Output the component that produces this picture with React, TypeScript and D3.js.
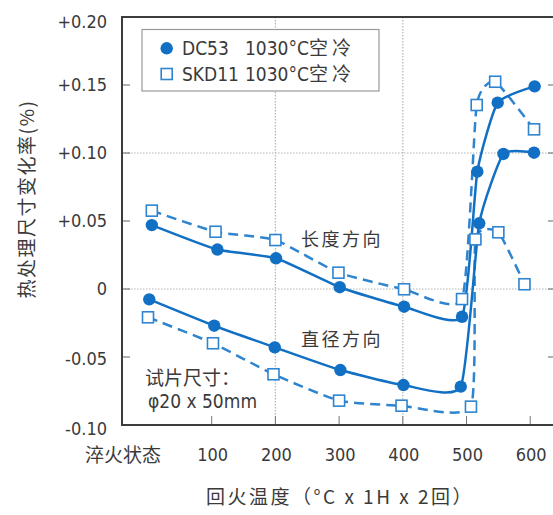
import React from "react";
import * as d3 from "d3";

// ---- data ----
const yTicks = [-0.1, -0.05, 0, 0.05, 0.1, 0.15, 0.2];
const yTickLabels = ["-0.10", "-0.05", "0", "+0.05", "+0.10", "+0.15", "+0.20"];
const xTicks = [100, 200, 300, 400, 500, 600];
const xTickLabels = ["100", "200", "300", "400", "500", "600"];
const quenchLabel = "淬火状态";
const yGrid = [0, 0.1];
const xGrid = [200, 400];

// DC53 (solid, filled circles)
const dc53LenT = [6, 109, 201, 301, 402, 493, 517, 549, 607];
const dc53LenV = [0.047, 0.029, 0.0226, 0.0013, -0.013, -0.0204, 0.0863, 0.137, 0.149];
const dc53DiaT = [2, 104, 199, 302, 401, 491, 520, 558, 606];
const dc53DiaV = [-0.0076, -0.027, -0.0429, -0.0596, -0.0706, -0.0718, 0.0483, 0.0993, 0.1002];
// SKD11 (dashed, open squares)
const skdLenT = [6, 106, 200, 299, 402, 493, 516, 545, 606];
const skdLenV = [0.0576, 0.0421, 0.036, 0.012, -0.0002, -0.0074, 0.1353, 0.1524, 0.1174];
const skdDiaT = [0, 102, 197, 300, 398, 507, 514, 550, 591];
const skdDiaV = [-0.0208, -0.0399, -0.0627, -0.0821, -0.0858, -0.0865, 0.0365, 0.0417, 0.0035];

const legendNames = ["DC53", "SKD11"];
const legendCond = "1030°C空冷";

const W = 553;
const H = 515;
const LEFT = 122;
const RIGHT = 557;
const TOP = 17;
const BOTTOM = 425;

const LAT = "'DejaVu Sans Condensed', 'DejaVu Sans', sans-serif";
const CJK = "'Noto Sans CJK SC', sans-serif";
const TXT = "#3a3a3a";
const BLUE = "#1170c4";
const BLUE2 = "#2f84cf";

export default function App() {
  const x = d3.scaleLinear().domain([0, 600]).range([148, 530.2]);
  const y = d3.scaleLinear().domain([-0.1, 0.2]).range([BOTTOM, TOP]);

  const line = d3
    .line<[number, number]>()
    .x((d) => x(d[0]))
    .y((d) => y(d[1]))
    .curve(d3.curveCardinal.tension(0.5));

  const zip = (t: number[], v: number[]) => t.map((tt, i) => [tt, v[i]] as [number, number]);
  const dcL = zip(dc53LenT, dc53LenV);
  const dcD = zip(dc53DiaT, dc53DiaV);
  const skL = zip(skdLenT, skdLenV);
  const skD = zip(skdDiaT, skdDiaV);

  const sq = 11;

  return (
    <svg width={W} height={H} style={{ display: "block", position: "absolute", left: 0, top: 0 }}>
      <rect x={0} y={0} width={W} height={H} fill="#fff" />
      {/* grid */}
      {yGrid.map((g) => (
        <line key={"yg" + g} x1={LEFT} x2={RIGHT} y1={y(g)} y2={y(g)} stroke="#b5b5b5" strokeWidth={1.2} strokeDasharray="1.5,1.5" />
      ))}
      {xGrid.map((g) => (
        <line key={"xg" + g} x1={x(g)} x2={x(g)} y1={TOP} y2={BOTTOM} stroke="#b5b5b5" strokeWidth={1.2} strokeDasharray="1.5,1.5" />
      ))}
      {/* ticks */}
      {yTicks.map((t) => (
        <g key={"yt" + t}>
          <line x1={LEFT} x2={LEFT + 8} y1={y(t)} y2={y(t)} stroke="#666" strokeWidth={1} />
          <line x1={RIGHT - 9} x2={RIGHT} y1={y(t)} y2={y(t)} stroke="#666" strokeWidth={1} />
        </g>
      ))}
      {xTicks.map((t) => (
        <line key={"xt" + t} x1={x(t)} x2={x(t)} y1={BOTTOM - 9} y2={BOTTOM} stroke="#777" strokeWidth={1} />
      ))}
      {/* frame */}
      <rect x={LEFT} y={TOP} width={RIGHT - LEFT} height={BOTTOM - TOP} fill="none" stroke="#3c3c3c" strokeWidth={2} />

      {/* y tick labels */}
      {yTicks.map((t, i) => (
        <text
          key={"yl" + t}
          x={107}
          y={y(t) + (t === 0.2 ? 5 : t === -0.1 ? 4 : t === -0.05 ? 2 : 0)}
          dy="0.36em"
          textAnchor="end"
          fontFamily={LAT}
          fontSize={18}
          fill={TXT}
        >
          {yTickLabels[i]}
        </text>
      ))}
      {/* x tick labels */}
      <text x={123} y={455} dy="0.36em" textAnchor="middle" fontFamily={CJK} fontSize={19} fill={TXT}>
        {quenchLabel}
      </text>
      {xTicks.map((t, i) => (
        <text key={"xl" + t} x={x(t) + 1} y={455} dy="0.36em" textAnchor="middle" fontFamily={LAT} fontSize={18} fill={TXT}>
          {xTickLabels[i]}
        </text>
      ))}

      {/* axis titles */}
      <text
        transform="translate(27,199) rotate(-90)"
        textAnchor="middle"
        dy="0.36em"
        fontFamily={CJK}
        fontSize={19}
        letterSpacing={1.5}
        fill={TXT}
      >
        热处理尺寸变化率(%)
      </text>
      <text x={340} y={497} dy="0.36em" textAnchor="middle" fontFamily={CJK} fontSize={19} letterSpacing={2.5} fill={TXT}>
        回火温度（°C x 1H x 2回）
      </text>

      {/* annotations */}
      <text x={342} y={240} dy="0.36em" textAnchor="middle" fontFamily={CJK} fontSize={18} letterSpacing={2.5} fill={TXT}>
        长度方向
      </text>
      <text x={342} y={340} dy="0.36em" textAnchor="middle" fontFamily={CJK} fontSize={18} letterSpacing={2.5} fill={TXT}>
        直径方向
      </text>
      <text x={145} y={385} fontFamily={CJK} fontSize={19} fill={TXT}>
        试片尺寸：
      </text>
      <text x={148} y={408} fontFamily={LAT} fontSize={19} fill={TXT}>
        φ20 x 50mm
      </text>

      {/* lines */}
      <path d={line(skL) || ""} fill="none" stroke={BLUE2} strokeWidth={2.5} strokeDasharray="10,6" />
      <path d={line(skD) || ""} fill="none" stroke={BLUE2} strokeWidth={2.5} strokeDasharray="10,6" />
      <path d={line(dcL) || ""} fill="none" stroke={BLUE} strokeWidth={2.5} />
      <path d={line(dcD) || ""} fill="none" stroke={BLUE} strokeWidth={2.5} />

      {/* markers */}
      {[...skL, ...skD].map((d, i) => (
        <rect
          key={"s" + i}
          x={x(d[0]) - sq / 2}
          y={y(d[1]) - sq / 2}
          width={sq}
          height={sq}
          fill="#fff"
          stroke={BLUE2}
          strokeWidth={1.6}
        />
      ))}
      {[...dcL, ...dcD].map((d, i) => (
        <circle key={"c" + i} cx={x(d[0])} cy={y(d[1])} r={6.2} fill={BLUE} />
      ))}

      {/* legend */}
      <rect x={142} y={29.5} width={237} height={61.5} fill="#fff" stroke="#9a9a9a" strokeWidth={1.2} />
      <circle cx={166.7} cy={48.3} r={6.2} fill={BLUE} />
      <rect x={166.7 - sq / 2} y={74 - sq / 2} width={sq} height={sq} fill="#fff" stroke={BLUE2} strokeWidth={1.6} />
      {legendNames.map((n, i) => (
        <g key={n}>
          <text x={182} y={48.5 + i * 26} dy="0.36em" fontFamily={LAT} fontSize={19} fill={TXT}>
            {n}
          </text>
          <text x={245} y={48.5 + i * 26} dy="0.36em" fontFamily={LAT} fontSize={19} fill={TXT}>
            {legendCond.slice(0, 6)}
            <tspan fontFamily={CJK} letterSpacing={4}>
              {legendCond.slice(6)}
            </tspan>
          </text>
        </g>
      ))}
    </svg>
  );
}
